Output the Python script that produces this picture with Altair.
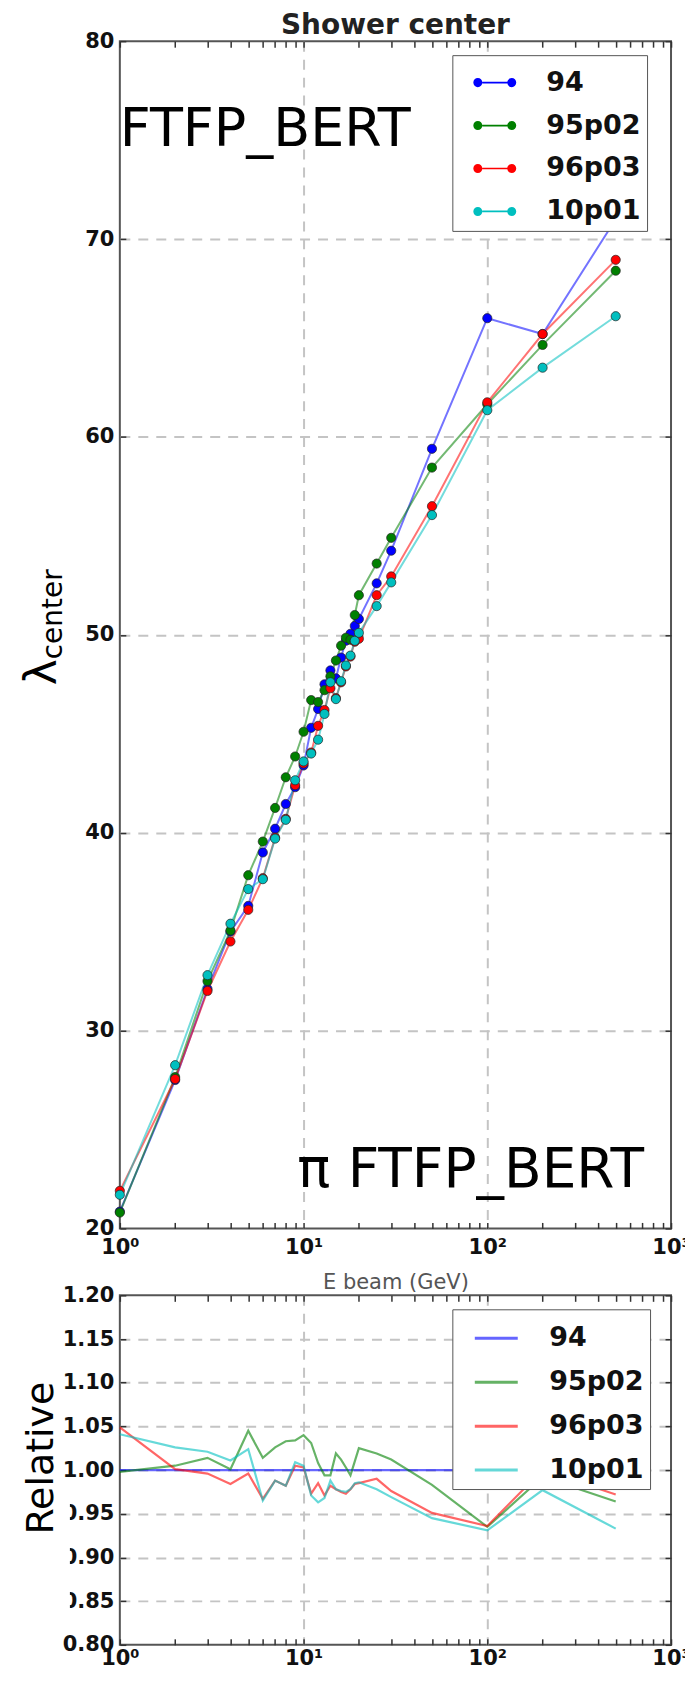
import altair as alt
import pandas as pd

# ---------------- data ----------------
energies = [1, 2, 3, 4, 5, 6, 7, 8, 9, 10, 11, 12, 13, 14, 15, 16, 17, 18, 19, 20,
            25, 30, 50, 100, 200, 500]
series_names = ["94", "95p02", "96p03", "10p01"]
series_colors = ["#0000ff", "#008000", "#ff0000", "#00bfbf"]

center_94 = [20.85, 27.5, 32.1, 35.0, 36.3, 39.0, 40.2, 41.45, 42.3, 43.4, 45.3, 46.25,
             47.5, 48.2, 47.8, 48.85, 49.7, 50.05, 50.45, 50.8, 52.6, 54.25, 59.4, 66.0,
             65.2, 71.0]
center_95p02 = [20.8, 27.65, 32.5, 35.05, 37.85, 39.55, 41.25, 42.8, 43.85, 45.1, 46.7,
                46.6, 47.2, 47.9, 48.7, 49.45, 49.85, 49.75, 51.0, 52.0, 53.6, 54.9, 58.45,
                61.65, 64.65, 68.4]
center_96p03 = [21.9, 27.55, 32.0, 34.5, 36.1, 37.7, 39.75, 40.7, 42.4, 43.5, 44.05, 45.4,
                46.2, 47.3, 46.8, 47.6, 48.4, 48.9, 49.65, 49.8, 52.0, 52.95, 56.5, 61.75,
                65.2, 68.95]
center_10p01 = [21.7, 28.25, 32.8, 35.4, 37.15, 37.65, 39.7, 40.65, 42.65, 43.6, 44.0, 44.7,
                46.0, 47.6, 46.75, 47.65, 48.45, 48.95, 49.7, 50.1, 51.45, 52.65, 56.05,
                61.35, 63.5, 66.1]

rel_94 = [1.0, 1.0, 1.0, 1.0, 1.0, 1.0, 1.0, 1.0, 1.0, 1.0, 1.0, 1.0, 1.0, 1.0, 1.0, 1.0,
          1.0, 1.0, 1.0, 1.0, 1.0, 1.0, 1.0, 1.0, 1.0, 1.0]
rel_95p02 = [0.998, 1.005, 1.014, 1.001, 1.045, 1.014, 1.026, 1.033, 1.034, 1.040, 1.031,
             1.008, 0.994, 0.994, 1.019, 1.012, 1.003, 0.994, 1.010, 1.025, 1.019, 1.012,
             0.983, 0.935, 0.992, 0.964]
rel_96p03 = [1.049, 1.001, 0.996, 0.984, 0.996, 0.967, 0.988, 0.982, 1.005, 1.003, 0.973,
             0.985, 0.971, 0.982, 0.978, 0.975, 0.973, 0.978, 0.984, 0.985, 0.990, 0.976,
             0.951, 0.936, 1.000, 0.972]
rel_10p01 = [1.041, 1.026, 1.021, 1.011, 1.024, 0.965, 0.988, 0.982, 1.009, 1.005, 0.971,
             0.963, 0.968, 0.988, 0.978, 0.976, 0.975, 0.978, 0.985, 0.986, 0.978, 0.969,
             0.945, 0.931, 0.977, 0.933]

x_tick_values = [1, 2, 3, 4, 5, 6, 7, 8, 9, 10, 20, 30, 40, 50, 60, 70, 80, 90,
                 100, 200, 300, 400, 500, 600, 700, 800, 900, 1000]
y_top_ticks = [20, 30, 40, 50, 60, 70, 80]
y_bottom_ticks = [0.80, 0.85, 0.90, 0.95, 1.00, 1.05, 1.10, 1.15, 1.20]

title_text = "Shower center"
x_title = "E beam (GeV)"
ann_top = "FTFP_BERT"
ann_bottom = "π FTFP_BERT"
ylab_main = "λ"
ylab_sub = "center"
ylab_rel = "Relative"

# ---------------- tables ----------------
top_rows, rel_rows = [], []
for i, (name, cvals, rvals) in enumerate(zip(series_names,
                                              [center_94, center_95p02, center_96p03, center_10p01],
                                              [rel_94, rel_95p02, rel_96p03, rel_10p01])):
    for e, c, r in zip(energies, cvals, rvals):
        top_rows.append({"E": e, "series": name, "value": c, "k": i})
        rel_rows.append({"E": e, "series": name, "value": r, "k": i})
top_df = pd.DataFrame(top_rows)
rel_df = pd.DataFrame(rel_rows)

FONT = "DejaVu Sans"
LABEL_EXPR = ("datum.value === 1 ? '10⁰' : datum.value === 10 ? '10¹' : "
              "datum.value === 100 ? '10²' : datum.value === 1000 ? '10³' : ''")
GRID_X = {"condition": {"test": "datum.value === 10 || datum.value === 100", "value": 1},
          "value": 0}

x_scale = alt.Scale(type="log", domain=[1, 1000], nice=False)
color_scale = alt.Scale(domain=series_names, range=series_colors)

common_axis = dict(domain=False, tickColor="#333", tickWidth=1.5,
                   tickSize={"expr": "-6"}, labelFont=FONT, labelFontSize=21,
                   labelFontWeight="bold", labelColor="#111", gridDash=[10, 8],
                   gridColor="#c4c4c4", gridWidth=2)


def x_axis_bottom(title, label_pad, title_pad):
    return alt.Axis(orient="bottom", values=x_tick_values, labelExpr=LABEL_EXPR,
                    labelFlush=False, labelOverlap=False, labelPadding=label_pad,
                    grid=True, gridOpacity=GRID_X,
                    title=title, titleFont=FONT, titleFontSize=21,
                    titleFontWeight="normal", titleColor="#555", titlePadding=title_pad,
                    **common_axis)


def x_axis_top():
    return alt.Axis(orient="top", values=x_tick_values, labels=False, grid=False,
                    title=None, **common_axis)


def y_axis_left(values, lo, hi, fmt):
    return alt.Axis(orient="left", values=values, format=fmt, labelPadding=12,
                    grid=True,
                    gridOpacity={"condition": {"test": f"datum.value > {lo} && datum.value < {hi}",
                                               "value": 1}, "value": 0},
                    title=None, **common_axis)


def y_axis_right(values):
    return alt.Axis(orient="right", values=values, labels=False, grid=False,
                    title=None, **common_axis)


LEG_PATH = ("M-0.58,-0.04H0.58V0.04H-0.58Z "
            "M-1,0A0.21,0.21 0 1,0 -0.58,0A0.21,0.21 0 1,0 -1,0Z "
            "M0.58,0A0.21,0.21 0 1,0 1,0A0.21,0.21 0 1,0 0.58,0Z")

legend_common = dict(title=None, orient="none", legendX=333, legendY=14,
                     labelFont=FONT, labelFontSize=27, labelFontWeight="bold",
                     labelColor="#111", padding=6, rowPadding=8, symbolOffset=15,
                     labelOffset=30, strokeColor="#555", fillColor="white",
                     cornerRadius=0, labelExpr="datum.label + '\u00a0\u00a0'")

leg_top = alt.Legend(symbolType=LEG_PATH, symbolSize=1849, symbolStrokeWidth=0,
                     symbolOpacity=1, **legend_common)
leg_bottom = alt.Legend(symbolType="stroke", symbolSize=1849, symbolStrokeWidth=3,
                        symbolOpacity=0.6, **legend_common)

W = 552
H_TOP = 1189
H_BOT = 350

# ---------------- top panel ----------------
base_top = alt.Chart(top_df)
y_top_scale = alt.Scale(domain=[20, 80], nice=False, zero=False)
lines_top = base_top.mark_line(strokeWidth=2, opacity=0.55).encode(
    x=alt.X("E:Q", scale=x_scale, axis=x_axis_bottom(x_title, 14, 14)),
    y=alt.Y("value:Q", scale=y_top_scale, axis=y_axis_left(y_top_ticks, 20, 80, "d")),
    color=alt.Color("series:N", scale=color_scale, sort=series_names, legend=leg_top),
    detail="series:N",
)
points_top = base_top.mark_point(filled=True, size=85, opacity=1, stroke="#222",
                                 strokeWidth=0.7).encode(
    x=alt.X("E:Q", scale=x_scale, axis=x_axis_top()),
    y=alt.Y("value:Q", scale=y_top_scale, axis=y_axis_right(y_top_ticks)),
    color=alt.Color("series:N", scale=color_scale, sort=series_names, legend=leg_top),
    order="k:Q",
)


def text_layer(txt, x, y, size, angle=0, align="left", weight="normal", color="black"):
    df = pd.DataFrame({"t": [txt]})
    kw = dict(font=FONT, fontSize=size, align=align, baseline="alphabetic",
              color=color, fontWeight=weight)
    if angle:
        kw["angle"] = angle
    return alt.Chart(df).mark_text(**kw).encode(
        text="t:N", x=alt.value(x), y=alt.value(y))


top = alt.layer(
    lines_top, points_top,
    text_layer(title_text, W / 2, -7, 28, align="center", weight="bold", color="#222"),
    text_layer(ann_top, 0, 105, 54),
    text_layer(ann_bottom, 525, 1148, 55, align="right"),
    text_layer(ylab_main, -64, 645, 44, angle=270),
    text_layer(ylab_sub, -58, 619, 28, angle=270),
).properties(width=W, height=H_TOP)

# ---------------- bottom panel ----------------
y_bot_scale = alt.Scale(domain=[0.8, 1.2], nice=False, zero=False)
lines_bot = alt.Chart(rel_df).mark_line(strokeWidth=2.2, opacity=0.6).encode(
    x=alt.X("E:Q", scale=x_scale, axis=x_axis_bottom(None, 9, 10)),
    y=alt.Y("value:Q", scale=y_bot_scale,
            axis=y_axis_left(y_bottom_ticks, 0.8, 1.2, ".2f")),
    color=alt.Color("series:N", scale=color_scale, sort=series_names, legend=leg_bottom),
    detail="series:N",
    order="E:Q",
)
ticks_bot = alt.Chart(rel_df).mark_point(opacity=0).encode(
    x=alt.X("E:Q", scale=x_scale, axis=x_axis_top()),
    y=alt.Y("value:Q", scale=y_bot_scale, axis=y_axis_right(y_bottom_ticks)),
)
# white patch that partly hides the left of some tick labels, as in the reference
mask_bot = alt.Chart(pd.DataFrame({"m": [0]})).mark_rect(color="white").encode(
    x=alt.value(-111), x2=alt.value(-50), y=alt.value(197), y2=alt.value(322))

bottom = alt.layer(
    lines_bot, ticks_bot, mask_bot,
    text_layer(ylab_rel, -67, 163, 38, angle=270, align="center"),
).properties(width=W, height=H_BOT)

chart = alt.vconcat(top, bottom, spacing=67, bounds="flush").resolve_scale(
    color="independent"
).configure_view(stroke="#555", strokeWidth=2).properties(
    padding={"left": 0, "top": 2, "right": -7, "bottom": 0}
)

chart.save("out.html", embed_options={"renderer": "svg", "actions": False})
